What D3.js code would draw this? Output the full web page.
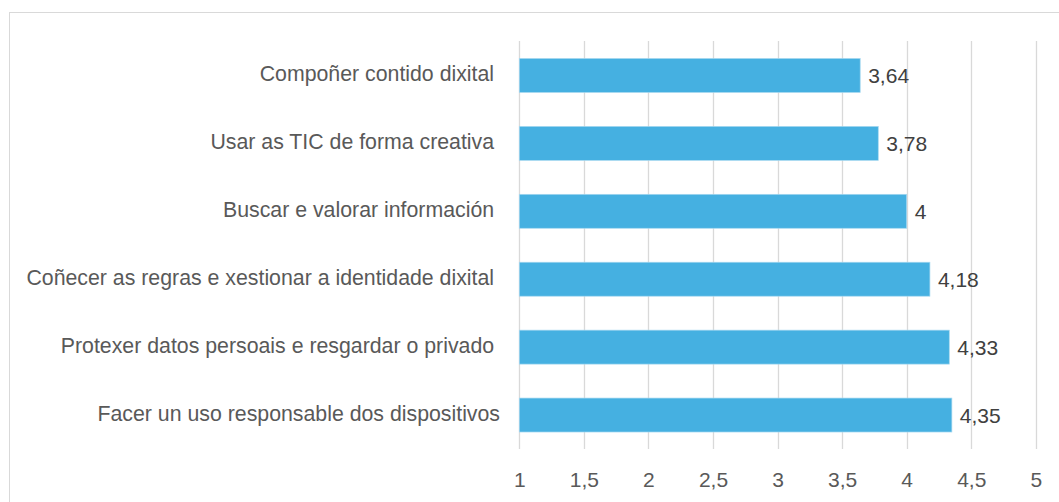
<!DOCTYPE html>
<html><head><meta charset="utf-8">
<script src="https://cdn.jsdelivr.net/npm/d3@7"></script>
<style>
body{margin:0;background:#fff;}
text{font-family:"Liberation Sans",Arial,sans-serif;}
</style></head>
<body><svg id="c" width="1059" height="502"></svg>
<script>
const categories = ["Compoñer contido dixital ","Usar as TIC de forma creativa ","Buscar e valorar información ","Coñecer as regras e xestionar a identidade dixital ","Protexer datos persoais e resgardar o privado ","Facer un uso responsable dos dispositivos"];
const values = [3.64,3.78,4,4.18,4.33,4.35];
const valueLabels = ["3,64","3,78","4","4,18","4,33","4,35"];
const ticks = [1,1.5,2,2.5,3,3.5,4,4.5,5];
const tickLabels = ["1","1,5","2","2,5","3","3,5","4","4,5","5"];

const FS = 21;
const svg = d3.select("#c");
svg.append("rect").attr("x",9.5).attr("y",12.5).attr("width",1070).attr("height",500)
  .attr("fill","#fff").attr("stroke","#d9d9d9").attr("stroke-width",1);

const x = d3.scaleLinear().domain([1,5]).range([519.3,1035.8]);
const y = d3.scaleBand().domain(categories).range([41.5,449]).paddingInner(0.5).paddingOuter(0.25);

const g = svg.append("g");
g.selectAll("line.grid").data(ticks).join("line").attr("class","grid")
  .attr("x1",d=>Math.round(x(d))+0.5).attr("x2",d=>Math.round(x(d))+0.5)
  .attr("y1",41).attr("y2",449).attr("stroke","#d9d9d9").attr("stroke-width",1.3);

g.selectAll("rect.bar").data(values).join("rect").attr("class","bar")
  .attr("x",x(1)).attr("y",(d,i)=>y(categories[i]))
  .attr("width",d=>x(d)-x(1)).attr("height",y.bandwidth())
  .attr("fill","#45b0e1").attr("stroke","#a6d8f0").attr("stroke-width",0.7);

g.selectAll("text.val").data(values).join("text").attr("class","val")
  .attr("x",d=>x(d)+8).attr("y",(d,i)=>y(categories[i])+y.bandwidth()/2+2)
  .attr("dominant-baseline","middle").attr("font-size",FS).attr("fill","#404040")
  .text((d,i)=>valueLabels[i]);

g.selectAll("text.cat").data(categories).join("text").attr("class","cat")
  .attr("x",500).attr("y",d=>y(d)+y.bandwidth()/2)
  .attr("dominant-baseline","middle").attr("text-anchor","end")
  .attr("font-size",21.3).attr("fill","#595959").style("white-space","pre")
  .text(d=>d);

const ax = svg.append("g").attr("transform","translate(0,449)")
  .call(d3.axisBottom(x).tickValues(ticks).tickFormat((d,i)=>tickLabels[i]).tickSize(0).tickPadding(0));
ax.select(".domain").remove();
ax.selectAll("text").attr("y",32).attr("dy",null).attr("dominant-baseline","middle")
  .attr("font-size",FS).attr("fill","#595959").style("font-family","Liberation Sans, Arial, sans-serif");
</script></body></html>
